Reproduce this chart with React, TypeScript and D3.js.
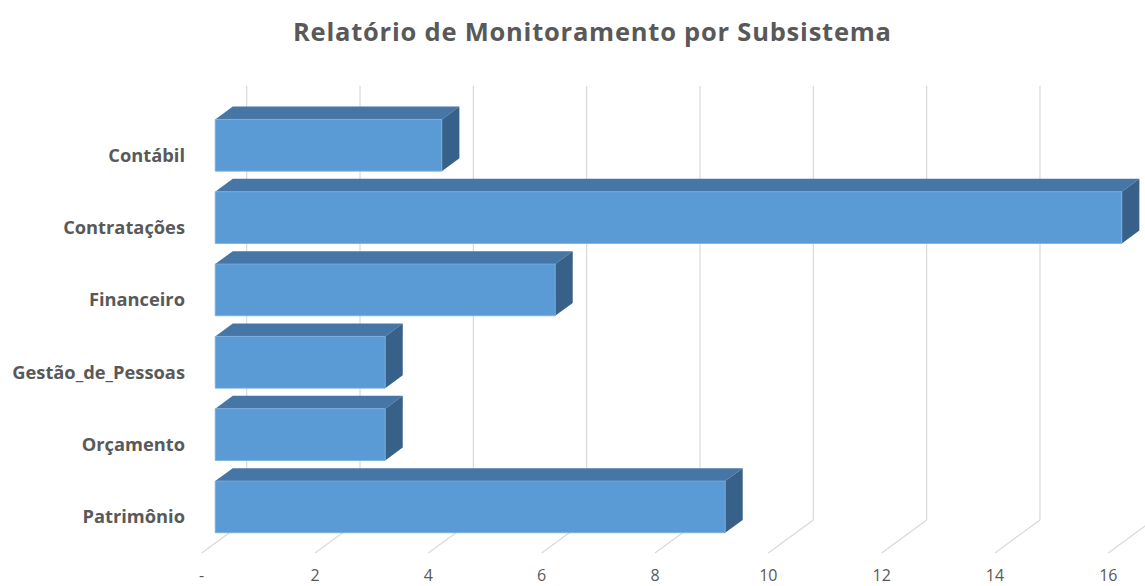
import React from "react";
import * as d3 from "d3";

const categories = ["Contábil", "Contratações", "Financeiro", "Gestão_de_Pessoas", "Orçamento", "Patrimônio"];
const values = [4, 16, 6, 3, 3, 9];
const ticks = [0, 2, 4, 6, 8, 10, 12, 14, 16];
const tickLabels = ["-", "2", "4", "6", "8", "10", "12", "14", "16"];
const title = "Relatório de Monitoramento por Subsistema";

const W = 1145;
const H = 586;
const DX = 45; // full floor depth offset
const DY = -33;
const T0 = 0.3; // bar front depth fraction
const T1 = 0.69; // bar back depth fraction

const x = d3.scaleLinear().domain([0, 16]).range([201.7, 1108.3]);
const y = d3.scaleBand<string>().domain(categories).range([119, 553]).paddingInner(0.285).paddingOuter(0.1425);

const textColor = "#595959";
const font = "'Open Sans', 'Liberation Sans', sans-serif";

export default function App() {
  const floorY = 553;
  const topY = 119;
  const pt = (px: number, py: number, t: number) => [px + DX * t, py + DY * t];
  const poly = (pts: number[][]) => pts.map((p) => p.join(",")).join(" ");

  return (
    <svg width={W} height={H} style={{ position: "absolute", left: 0, top: 0, background: "#fff" }}>
      <rect x={0} y={0} width={W} height={H} fill="#fff" />
      <text x={592} y={41} textAnchor="middle" fontFamily={font} fontWeight={700} fontSize={25.5} fill={textColor} textLength={598} lengthAdjust="spacing">
        {title}
      </text>
      {/* back wall gridlines and floor lines */}
      {ticks.map((v) => {
        const [bx, by] = pt(x(v), floorY, 1);
        const [, ty] = pt(x(v), topY, 1);
        return (
          <g key={v}>
            <line x1={x(v)} y1={floorY} x2={bx} y2={by} stroke="#d9d9d9" strokeWidth={1.2} />
            <line x1={bx} y1={by} x2={bx} y2={ty} stroke="#d9d9d9" strokeWidth={1.2} />
          </g>
        );
      })}
      {/* bars */}
      {categories.map((c, i) => {
        const y0 = (y(c) as number);
        const y1 = y0 + y.bandwidth();
        const xa = x(0);
        const xb = x(values[i]);
        const fTL = pt(xa, y0, T0);
        const fTR = pt(xb, y0, T0);
        const fBR = pt(xb, y1, T0);
        const fBL = pt(xa, y1, T0);
        const bTL = pt(xa, y0, T1);
        const bTR = pt(xb, y0, T1);
        const bBR = pt(xb, y1, T1);
        return (
          <g key={c}>
            <polygon points={poly([fTL, fTR, bTR, bTL])} fill="#4676a5" />
            <polygon points={poly([fTR, bTR, bBR, fBR])} fill="#386189" />
            <polygon points={poly([fTL, fTR, fBR, fBL])} fill="#5b9bd5" stroke="#7aaee0" strokeWidth={0.8} />
          </g>
        );
      })}
      {/* category labels */}
      {categories.map((c) => (
        <text
          key={c}
          x={185}
          y={(y(c) as number) + y.bandwidth() / 2}
          dy="0.35em"
          textAnchor="end"
          fontFamily={font}
          fontWeight={700}
          fontSize={18.3}
          fill={textColor}
        >
          {c}
        </text>
      ))}
      {/* value tick labels */}
      {ticks.map((v, i) => (
        <text key={v} x={x(v)} y={581} textAnchor="middle" fontFamily={font} fontSize={16} fill={textColor}>
          {tickLabels[i]}
        </text>
      ))}
    </svg>
  );
}
